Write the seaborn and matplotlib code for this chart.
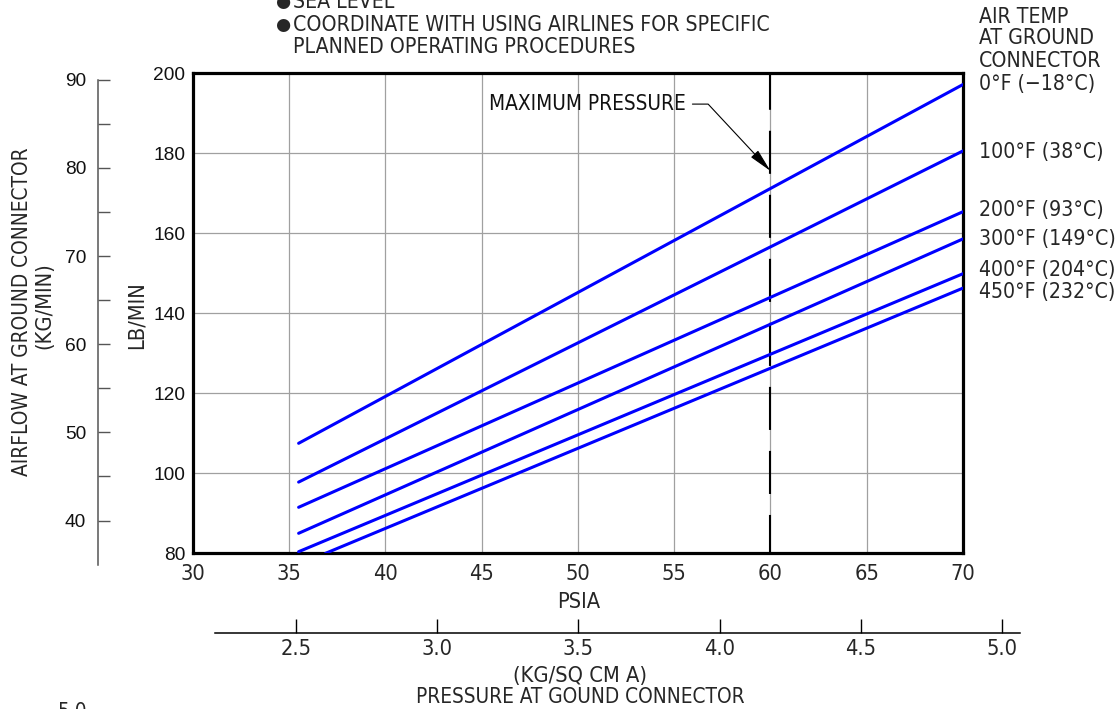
import os
import numpy as np
import pandas as pd
import seaborn as sns
import matplotlib
matplotlib.use("Agg")
import matplotlib.pyplot as plt
from matplotlib import font_manager as fm
from matplotlib.font_manager import FontProperties
from matplotlib.ticker import FixedLocator

# ---------------- data ----------------
temps = ["0°F (−18°C)", "100°F (38°C)", "200°F (93°C)",
         "300°F (149°C)", "400°F (204°C)", "450°F (232°C)"]
psia_start = [35.5, 35.5, 35.5, 35.5, 35.5, 36.9]
psia_end = [70.0, 70.0, 70.0, 70.0, 70.0, 70.0]
flow_start = [107.5, 97.8, 91.5, 85.0, 80.4, 80.0]
flow_end = [197.2, 180.6, 165.4, 158.6, 149.9, 146.3]

psia_ticks = [30, 35, 40, 45, 50, 55, 60, 65, 70]
lb_ticks = [80, 100, 120, 140, 160, 180, 200]
kg_min_ticks = [40, 50, 60, 70, 80, 90]
kg_min_minor = [45, 55, 65, 75, 85]
kgcm_ticks = [2.5, 3.0, 3.5, 4.0, 4.5, 5.0]
kgcm_labels = ["2.5", "3.0", "3.5", "4.0", "4.5", "5.0"]
max_pressure = 60
header = ["AIR TEMP", "AT GROUND", "CONNECTOR"]
notes = ["SEA LEVEL", "COORDINATE WITH USING AIRLINES FOR SPECIFIC",
         "PLANNED OPERATING PROCEDURES"]
LB_PER_KG = 2.20462

# ---------------- style ----------------
sns.set_theme(style="white")
plt.rcParams["font.family"] = ["Liberation Sans", "DejaVu Sans"]
plt.rcParams["lines.scale_dashes"] = False


def pick_narrow():
    prefs = ["liberationsansnarrow-regular", "dejavusanscondensed.ttf",
             "robotocondensed-regular", "opensans_condensed-regular",
             "opensanscondensed-regular"]
    files = set(fm.findSystemFonts()) | {f.fname for f in fm.fontManager.ttflist}
    for p in prefs:
        for f in sorted(files):
            if p in os.path.basename(f).lower():
                return f
    return None


nf = pick_narrow()
NARROW = FontProperties(fname=nf) if nf else FontProperties(family="DejaVu Sans")

W, H = 1118, 709
fig = plt.figure(figsize=(W / 100, H / 100), dpi=100)


def fx(p):
    return p / W


def fy(p):
    return 1 - p / H


# fit narrow font size to the width of the longest note line (469 px)
renderer = fig.canvas.get_renderer()
_fp = NARROW.copy()
_fp.set_size(10)
_t = fig.text(0, 0, notes[1], fontproperties=_fp)
_w = _t.get_window_extent(renderer).width
_t.remove()
NS = 10 * 469 / _w


def nfp(scale=1.0):
    p = NARROW.copy()
    p.set_size(NS * scale)
    return p


AX_L, AX_R, AX_T, AX_B = 192.7, 963.0, 73.3, 553.3
ax = fig.add_axes([fx(AX_L), fy(AX_B), fx(AX_R) - fx(AX_L), fy(AX_T) - fy(AX_B)])

rows = []
for t, x0, x1, y0, y1 in zip(temps, psia_start, psia_end, flow_start, flow_end):
    rows.append({"temp": t, "psia": x0, "flow": y0})
    rows.append({"temp": t, "psia": x1, "flow": y1})
df = pd.DataFrame(rows)

sns.lineplot(data=df, x="psia", y="flow", hue="temp", hue_order=temps,
             palette=["#0000ff"] * len(temps), linewidth=2.2, legend=False,
             errorbar=None, ax=ax, zorder=4)

ax.set_xlim(30, 70)
ax.set_ylim(80, 200)
ax.set_xticks(psia_ticks)
ax.set_yticks(lb_ticks)
ax.set_xlabel("")
ax.set_ylabel("")
ax.grid(True, color="#a0a0a0", lw=0.9)
ax.set_axisbelow(True)
for s in ax.spines.values():
    s.set_color("black")
    s.set_linewidth(2.3)
    s.set_visible(True)
ax.tick_params(axis="both", length=0)
ax.tick_params(axis="x", pad=8)
ax.tick_params(axis="y", pad=5.5, labelsize=13.8)
for lab in ax.get_xticklabels():
    lab.set_fontproperties(nfp(1.05))
for lab in ax.get_yticklabels():
    lab.set_fontsize(13.8)
    lab.set_color("#111111")

# maximum pressure dashed line
ax.axvline(max_pressure, color="black", lw=1.5, linestyle=(3.6, (31.0, 15.1)), zorder=3)
ax.text(45.39, 192.3, "MAXIMUM PRESSURE", fontproperties=nfp(1.0),
        ha="left", va="center", color="#111111")
ax.annotate("", xy=(max_pressure, 175.6), xytext=(55.95, 192.3),
            arrowprops=dict(arrowstyle="-|>,head_length=1.2,head_width=0.25",
                            connectionstyle="angle,angleA=0,angleB=-47,rad=0",
                            color="black", lw=0.8, shrinkA=0, shrinkB=0))

# ---------------- left auxiliary axis (KG/MIN) ----------------
px_per_lb = (AX_B - AX_T) / (200 - 80)
kg_lo, kg_hi = 34.0, 200 / LB_PER_KG
bottom_px = AX_B + (80 - kg_lo * LB_PER_KG) * px_per_lb
axk = fig.add_axes([fx(98), fy(bottom_px), 0.02, fy(AX_T) - fy(bottom_px)])
axk.set_ylim(kg_lo, kg_hi)
axk.set_facecolor("none")
for k in ["right", "top", "bottom"]:
    axk.spines[k].set_visible(False)
axk.spines["left"].set_color("#555555")
axk.spines["left"].set_linewidth(1.1)
axk.spines["left"].set_bounds(35, 90)
axk.set_xticks([])
axk.yaxis.set_major_locator(FixedLocator(kg_min_ticks))
axk.yaxis.set_minor_locator(FixedLocator(kg_min_minor))
axk.tick_params(axis="y", which="both", left=True, direction="in", length=8.6,
                width=1.0, color="#555555", pad=8.5, labelsize=13.8,
                labelcolor="#111111")
axk.grid(False)

# ---------------- bottom auxiliary axis (KG/SQ CM A) ----------------
axp = fig.add_axes([fx(215), fy(633.3), fx(1020) - fx(215), 0.008])
axp.set_xlim(2.214, 5.063)
axp.set_facecolor("none")
for k in ["left", "right", "top"]:
    axp.spines[k].set_visible(False)
axp.spines["bottom"].set_color("black")
axp.spines["bottom"].set_linewidth(1.1)
axp.set_yticks([])
axp.set_xticks(kgcm_ticks)
axp.set_xticklabels(kgcm_labels)
axp.tick_params(axis="x", bottom=True, direction="in", length=10, width=1.0,
                color="black", pad=4)
for lab in axp.get_xticklabels():
    lab.set_fontproperties(nfp(1.05))
axp.grid(False)

# ---------------- texts ----------------
fig.text(fx(579), fy(602), "PSIA", fontproperties=nfp(1.05), ha="center", va="center")
fig.text(fx(580), fy(676), "(KG/SQ CM A)", fontproperties=nfp(1.05), ha="center", va="center")
fig.text(fx(580), fy(697), "PRESSURE AT GOUND CONNECTOR", fontproperties=nfp(1.0),
         ha="center", va="center")
fig.text(fx(137), fy(315), "LB/MIN", fontproperties=nfp(1.05), rotation=90,
         ha="center", va="center")
fig.text(fx(22), fy(312), "AIRFLOW AT GROUND CONNECTOR", fontproperties=nfp(1.0),
         rotation=90, ha="center", va="center")
fig.text(fx(44), fy(306), "(KG/MIN)", fontproperties=nfp(1.05), rotation=90,
         ha="center", va="center")

note_y = [2, 25, 47]
for i, (txt, yy) in enumerate(zip(notes, note_y)):
    fig.text(fx(293), fy(yy), txt, fontproperties=nfp(1.02), ha="left", va="center")
    if i < 2:
        fig.text(fx(283), fy(yy), "●", family="DejaVu Sans", fontsize=12.5,
                 ha="center", va="center")

for txt, yy in zip(header, [17, 38, 61]):
    fig.text(fx(979), fy(yy), txt, fontproperties=nfp(1.02), ha="left", va="center")
for txt, yy in zip(temps, [84, 152, 210, 239, 270, 292]):
    fig.text(fx(979), fy(yy), txt, fontproperties=nfp(1.02), ha="left", va="center")

fig.text(fx(58), fy(702), "5.0", fontproperties=nfp(), ha="left", va="top")

fig.savefig("out.png", dpi=100)
